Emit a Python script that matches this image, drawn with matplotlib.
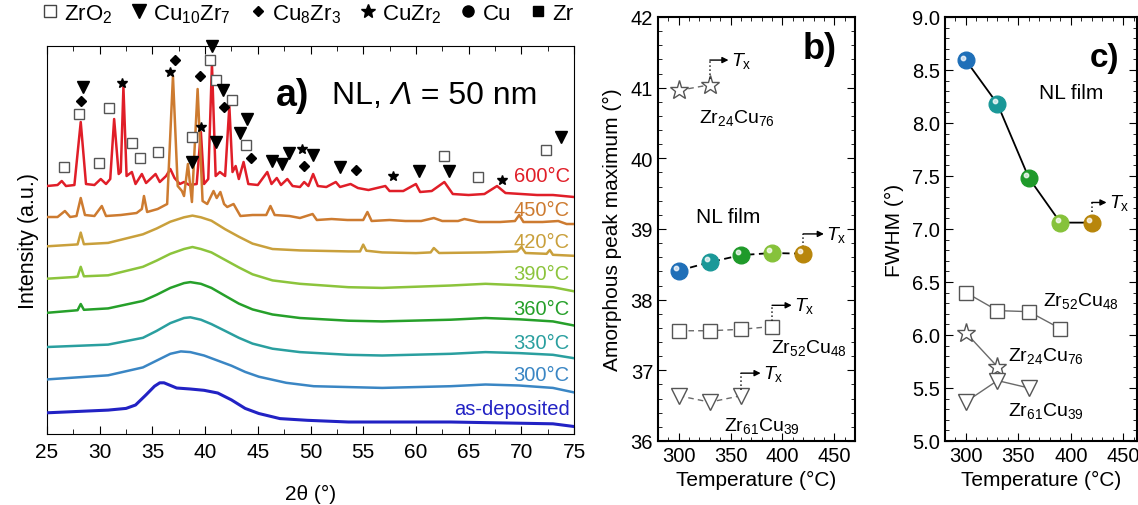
import numpy as np
import matplotlib.pyplot as plt
from matplotlib.ticker import MultipleLocator
from matplotlib.lines import Line2D
from matplotlib import transforms

plt.rcParams['font.family'] = ['Liberation Sans', 'DejaVu Sans']
plt.rcParams['mathtext.fontset'] = 'custom'
plt.rcParams['mathtext.rm'] = 'Liberation Sans'
plt.rcParams['mathtext.it'] = 'Liberation Sans:italic'
plt.rcParams['mathtext.bf'] = 'Liberation Sans:bold'
plt.rcParams['mathtext.default'] = 'regular'

# ---------------- panel a: XRD patterns (2theta, stacked intensity) ----------------
tt_asdep = [25.0, 30.8, 32.5, 33.4, 34.4, 35.2, 35.7, 36.1, 37.3, 38.6, 39.9, 41.2, 42.5, 43.8,
            45.1, 47.1, 49.7, 53.6, 63.3, 73.0, 75.0]
I_asdep = [21.2, 23.9, 25.6, 29.0, 39.2, 47.8, 51.2, 51.2, 46.0, 45.0, 43.7, 41.0, 34.1, 25.6,
           20.5, 15.4, 13.7, 12.0, 12.0, 10.2, 7.5]

tt_300 = [25.0, 30.8, 34.1, 35.4, 36.7, 37.7, 38.6, 39.9, 41.2, 42.5, 43.8, 45.1, 47.7, 50.3,
          56.8, 63.3, 66.6, 69.8, 73.0, 75.0]
I_300 = [54.6, 58.7, 66.6, 73.4, 80.2, 82.6, 81.9, 78.5, 73.4, 68.3, 62.1, 57.3, 51.2, 47.8,
         46.1, 47.8, 49.5, 48.5, 46.1, 41.6]

tt_330 = [25.0, 30.8, 34.1, 35.4, 36.7, 38.0, 38.6, 39.6, 40.6, 41.9, 43.2, 44.5, 46.4, 49.0,
          53.6, 56.8, 63.3, 66.6, 69.8, 73.0, 75.0]
I_330 = [87.0, 89.4, 96.2, 103.1, 110.9, 116.0, 116.7, 114.3, 109.9, 103.1, 96.2, 90.4, 85.3, 81.9,
         79.2, 78.5, 80.2, 81.9, 80.9, 79.2, 75.8]

tt_360 = [25.0, 27.6, 27.9, 28.2, 28.5, 30.8, 34.1, 35.4, 36.7, 38.0, 38.6, 39.6, 40.6, 41.9,
          43.2, 44.5, 46.4, 49.0, 53.6, 56.8, 63.3, 66.6, 69.8, 73.0, 75.0]
I_360 = [121.2, 123.5, 123.8, 130.0, 124.2, 125.6, 133.1, 139.2, 146.1, 150.9, 151.9, 150.2, 146.1, 138.2,
         130.4, 124.6, 119.5, 116.0, 113.3, 112.6, 114.3, 116.0, 114.7, 112.6, 108.5]

tt_390 = [25.0, 27.6, 27.9, 28.2, 28.5, 30.8, 34.1, 35.4, 36.7, 38.0, 38.8, 39.6, 40.6, 41.9,
          43.2, 44.5, 46.4, 49.0, 53.6, 56.8, 63.3, 66.6, 69.8, 73.0, 75.0]
I_390 = [155.3, 157.0, 157.5, 167.2, 157.7, 158.7, 167.2, 173.4, 180.2, 185.0, 187.0, 185.0, 181.6, 174.1,
         166.6, 159.7, 153.6, 150.2, 146.8, 146.1, 148.5, 150.2, 148.8, 146.8, 142.7]

tt_420 = [25.0, 27.6, 27.9, 28.2, 28.5, 30.8, 34.1, 35.4, 36.7, 38.0, 38.8, 39.6, 40.6, 41.9,
          43.2, 44.5, 46.4, 49.0, 53.6, 54.7, 55.0, 55.3, 56.8, 60.0, 61.4, 61.7, 62.2, 66.6,
          69.6, 70.0, 70.4, 72.4, 72.7, 73.0, 75.0]
I_420 = [187.7, 189.4, 189.6, 201.4, 189.8, 191.1, 199.7, 205.5, 212.3, 216.7, 218.4, 216.7, 213.3, 204.8,
         197.3, 190.4, 185.0, 183.6, 182.6, 182.6, 189.4, 183.3, 181.6, 180.9, 181.6, 186.0, 181.0, 181.6,
         182.6, 187.0, 181.0, 180.2, 184.0, 179.2, 178.2]

tt_450 = [25.0, 26.0, 26.7, 27.2, 27.8, 28.2, 28.6, 29.5, 30.2, 30.6, 32.0, 33.5, 34.0, 34.2, 34.5,
          35.5, 36.4, 36.95, 37.4, 37.8, 38.0, 38.37, 38.75, 39.29, 39.76, 40.2, 40.8, 41.1, 41.45,
          41.8, 42.1, 42.7, 43.35, 44.5, 45.8, 46.2, 46.6, 48.0, 49.0, 50.2, 50.6, 52.0, 53.5,
          55.0, 55.4, 55.8, 57.5, 59.0, 60.5, 61.7, 62.5, 64.0, 64.6, 66.0, 68.0, 69.4, 69.8,
          70.2, 72.0, 73.5, 74.3, 75.0]
I_450 = [217, 217, 223, 217, 218, 236, 219, 218, 228, 218, 219, 221, 225, 238, 222,
         225, 230, 358, 248, 243, 238, 270, 232, 345, 233, 230, 243, 236, 242,
         230, 227, 230, 218, 219, 219, 228, 219, 218, 216, 220, 214, 215, 214,
         214, 222, 213, 214, 213, 213, 216, 213, 213, 215, 212, 212, 213, 219,
         212, 212, 213, 210, 210]

tt_600 = [25.0, 26.0, 26.4, 26.8, 27.6, 28.2, 28.7, 29.5, 30.1, 30.6, 31.0, 31.37, 31.8, 32.0,
          32.25, 32.55, 33.05, 33.4, 34.0, 34.4, 35.3, 35.7, 36.3, 36.7, 37.1, 37.6, 38.0, 38.5,
          39.2, 39.6, 39.9, 40.3, 40.65, 41.0, 41.4, 41.9, 42.3, 42.6, 42.9, 43.2, 43.65, 44.1,
          45.0, 45.9, 46.3, 46.8, 47.2, 47.8, 48.3, 49.0, 49.4, 49.8, 50.25, 50.7, 51.5, 52.4,
          52.8, 53.8, 54.5, 55.5, 57.1, 57.5, 58.8, 60.0, 60.4, 61.5, 62.7, 63.5, 65.0, 66.5,
          67.7, 68.5, 70.0, 71.5, 73.0, 75.0]
I_600 = [248, 249, 253, 248, 249, 312, 250, 249, 255, 250, 255, 315, 260, 262,
         347, 258, 262, 250, 260, 251, 260, 252, 258, 265, 256, 250, 252, 249,
         250, 302, 250, 255, 370, 258, 262, 258, 328, 262, 268, 255, 272, 250,
         249, 262, 250, 256, 249, 255, 248, 247, 252, 248, 260, 248, 247, 252,
         247, 250, 246, 244, 248, 243, 243, 250, 242, 243, 252, 240, 239, 240,
         248, 241, 240, 239, 239, 237]

xrd_curves = [
    ('as-deposited', tt_asdep, I_asdep, '#2222c4', 25.6),
    ('300°C', tt_300, I_300, '#3a86c4', 59.7),
    ('330°C', tt_330, I_330, '#2a9f9f', 92.0),
    ('360°C', tt_360, I_360, '#26a02a', 126.0),
    ('390°C', tt_390, I_390, '#8cc43c', 160.4),
    ('420°C', tt_420, I_420, '#c9a03c', 193.0),
    ('450°C', tt_450, I_450, '#cd7b30', 225.0),
    ('600°C', tt_600, I_600, '#e01e28', 259.0),
]

# phase markers (2theta, height)
zro2_tt = [26.6, 28.0, 29.9, 30.9, 33.05, 33.8, 35.5, 38.8, 40.5, 41.0, 42.55, 43.9, 62.7, 65.9, 72.3]
zro2_I = [267, 320, 271, 326, 291, 276, 282, 297, 374, 354, 334, 289, 278, 257, 284]
cu10_tt = [28.45, 38.75, 40.7, 41.0, 41.7, 43.35, 44.0, 46.3, 47.3, 48.0, 50.25, 52.8, 60.3, 63.15, 73.8]
cu10_I = [347, 272, 388, 292, 344, 301, 315, 273, 270, 281, 279, 267, 263, 263, 297]
cu8_tt = [28.2, 37.1, 39.5, 41.8, 44.4, 49.4, 54.3]
cu8_I = [333, 374, 358, 327, 276, 268, 264]
cuzr2_tt = [32.1, 36.7, 39.6, 49.2, 57.8, 68.2]
cuzr2_I = [351, 362, 307, 285, 258, 254]

# ---------------- panels b, c ----------------
T_nl = [300, 330, 360, 390, 420]
peak_nl = [38.41, 38.53, 38.63, 38.66, 38.65]
fwhm_nl = [8.59, 8.18, 7.48, 7.06, 7.06]
nl_colors = ['#1f6fb8', '#1a9898', '#1f9a2a', '#86c23a', '#b8860b']

T_52 = [300, 330, 360, 390]
peak_52 = [37.56, 37.56, 37.58, 37.62]
fwhm_52 = [6.40, 6.23, 6.22, 6.06]
T_24 = [300, 330]
peak_24 = [40.96, 41.04]
fwhm_24 = [6.02, 5.70]
T_61 = [300, 330, 360]
peak_61 = [36.64, 36.55, 36.64]
fwhm_61 = [5.37, 5.57, 5.50]

fig = plt.figure(figsize=(11.38, 5.06), dpi=100)
axa = fig.add_axes([0.0413, 0.1403, 0.4631, 0.7668])
axb = fig.add_axes([0.5782, 0.1265, 0.1731, 0.8380])
axc = fig.add_axes([0.8304, 0.1265, 0.1687, 0.8380])

# ---- panel a ----
for k, (name, tt, inten, col, ylab) in enumerate(xrd_curves):
    lw = 2.2 if name == 'as-deposited' else 1.8
    axa.plot(tt, inten, color=col, lw=lw, solid_joinstyle='round', zorder=10 - k)
    axa.text(74.6, ylab, name, color=col, fontsize=14.5, ha='right', va='center')

mk = dict(ls='none', clip_on=False, zorder=12)
axa.plot(zro2_tt, zro2_I, marker='s', ms=6.5, mfc='white', mec='#555555', mew=1.0, **mk)
axa.plot(cu10_tt, cu10_I, marker='v', ms=8.5, color='black', **mk)
axa.plot(cu8_tt, cu8_I, marker='D', ms=5, color='black', **mk)
axa.plot(cuzr2_tt, cuzr2_I, marker='*', ms=7, color='black', **mk)

axa.set_xlim(25, 75)
axa.set_ylim(0, 388)
axa.xaxis.set_major_locator(MultipleLocator(5))
axa.xaxis.set_minor_locator(MultipleLocator(2.5))
axa.tick_params(axis='x', which='both', direction='in', top=True, labelsize=15)
axa.tick_params(axis='x', which='major', length=6, pad=6)
axa.tick_params(axis='x', which='minor', length=3.5)
axa.set_yticks([])
axa.set_xlabel('2θ (°)', fontsize=15, labelpad=16)
axa.set_ylabel('Intensity (a.u.)', fontsize=15.5, labelpad=6)

axa.text(0.435, 0.875, 'a)', transform=axa.transAxes, fontsize=27, fontweight='bold', va='center')
t1 = axa.text(0.54, 0.875, 'NL, ', transform=axa.transAxes, fontsize=23, va='center')
t2 = axa.annotate('Λ', xy=(1, 0), xycoords=t1, fontsize=23, style='italic', va='bottom')
axa.annotate(' = 50 nm', xy=(1, 0), xycoords=t2, fontsize=23, va='bottom')

handles = [
    Line2D([], [], ls='none', marker='s', ms=8, mfc='white', mec='#444444'),
    Line2D([], [], ls='none', marker='v', ms=9.5, color='black'),
    Line2D([], [], ls='none', marker='D', ms=5.5, color='black'),
    Line2D([], [], ls='none', marker='*', ms=10, color='black'),
    Line2D([], [], ls='none', marker='o', ms=8, color='black'),
    Line2D([], [], ls='none', marker='s', ms=7.5, color='black'),
]
labels = [r'ZrO$_2$', r'Cu$_{10}$Zr$_7$', r'Cu$_8$Zr$_3$', r'CuZr$_2$', 'Cu', 'Zr']
axa.legend(handles, labels, ncol=6, frameon=False, fontsize=16, loc='lower left',
           bbox_to_anchor=(-0.01, 1.055), handlelength=0.7, handletextpad=0.3,
           columnspacing=0.85, borderaxespad=0.0, borderpad=0.0)


def sphere_points(ax, xs, ys, cols, size=12):
    for x, y, c in zip(xs, ys, cols):
        ax.plot([x], [y], marker='o', ms=size, color=c, mec=c, zorder=4)
    hl = transforms.offset_copy(ax.transData, fig=fig, x=-2.0, y=2.0, units='points')
    ax.plot(xs, ys, ls='none', marker='o', ms=3.2, color='white', alpha=0.75, transform=hl, zorder=5)


def tx_arrow(ax, x, y0, y1, x1):
    ax.plot([x, x], [y0, y1], ls=':', color='#222222', lw=1.1)
    ax.annotate('', xy=(x1, y1), xytext=(x, y1),
                arrowprops=dict(arrowstyle='-|>', color='black', lw=1.0,
                                mutation_scale=9, shrinkA=0, shrinkB=0))
    ax.text(x1 + 2, y1, r'$\mathit{T}_{\mathrm{x}}$', fontsize=14, va='center', ha='left')


ref_style = dict(color='#6a6a6a', mfc='white', mec='#555555', mew=1.0, lw=1.0)

# ---- panel b ----
axb.plot(T_nl, peak_nl, ls='--', color='black', lw=1.3, dashes=(4, 2.5), zorder=3)
sphere_points(axb, T_nl, peak_nl, nl_colors)
axb.plot(T_52, peak_52, marker='s', ms=10, ls='--', dashes=(4, 3), **ref_style)
axb.plot(T_24, peak_24, marker='*', ms=14, ls='--', dashes=(4, 3), **ref_style)
axb.plot(T_61, peak_61, marker='v', ms=12, ls='--', dashes=(4, 3), **ref_style)

tx_arrow(axb, T_24[-1], peak_24[-1] + 0.08, 41.39, 348)
tx_arrow(axb, T_nl[-1], peak_nl[-1] + 0.1, 38.93, 440)
tx_arrow(axb, T_52[-1], peak_52[-1] + 0.08, 37.92, 409)
tx_arrow(axb, T_61[-1], peak_61[-1] + 0.08, 36.96, 379)

axb.text(356, 40.58, r'Zr$_{24}$Cu$_{76}$', fontsize=14, ha='center', va='center')
axb.text(426, 37.33, r'Zr$_{52}$Cu$_{48}$', fontsize=14, ha='center', va='center')
axb.text(380, 36.22, r'Zr$_{61}$Cu$_{39}$', fontsize=14, ha='center', va='center')
axb.text(348, 39.17, 'NL film', fontsize=15, ha='center', va='center')
axb.text(436, 41.55, 'b)', fontsize=26, fontweight='bold', ha='center', va='center')

axb.set_xlim(280, 470)
axb.set_ylim(36, 42)
axb.xaxis.set_major_locator(MultipleLocator(50))
axb.xaxis.set_minor_locator(MultipleLocator(10))
axb.yaxis.set_major_locator(MultipleLocator(1))
axb.yaxis.set_minor_locator(MultipleLocator(0.2))
axb.set_xlabel('Temperature (°C)', fontsize=15, labelpad=4)
axb.set_ylabel('Amorphous peak maximum (°)', fontsize=15, labelpad=6)

# ---- panel c ----
axc.plot(T_nl, fwhm_nl, ls='-', color='black', lw=1.3, zorder=3)
sphere_points(axc, T_nl, fwhm_nl, nl_colors)
axc.plot(T_52, fwhm_52, marker='s', ms=10, ls='-', **ref_style)
axc.plot(T_24, fwhm_24, marker='*', ms=14, ls='-', **ref_style)
axc.plot(T_61, fwhm_61, marker='v', ms=12, ls='-', **ref_style)

tx_arrow(axc, T_nl[-1], fwhm_nl[-1] + 0.1, 7.25, 434)

axc.text(400, 8.29, 'NL film', fontsize=15, ha='center', va='center')
axc.text(432, 8.62, 'c)', fontsize=24, fontweight='bold', ha='center', va='center')
axc.text(410, 6.33, r'Zr$_{52}$Cu$_{48}$', fontsize=14, ha='center', va='center')
axc.text(376, 5.81, r'Zr$_{24}$Cu$_{76}$', fontsize=14, ha='center', va='center')
axc.text(376, 5.29, r'Zr$_{61}$Cu$_{39}$', fontsize=14, ha='center', va='center')

axc.set_xlim(280, 463)
axc.set_ylim(5.0, 9.0)
axc.xaxis.set_major_locator(MultipleLocator(50))
axc.xaxis.set_minor_locator(MultipleLocator(10))
axc.yaxis.set_major_locator(MultipleLocator(0.5))
axc.yaxis.set_minor_locator(MultipleLocator(0.1))
axc.yaxis.set_major_formatter(plt.FormatStrFormatter('%.1f'))
axc.set_xlabel('Temperature (°C)', fontsize=15, labelpad=4)
axc.set_ylabel('FWHM (°)', fontsize=15, labelpad=6)

for ax in (axb, axc):
    ax.tick_params(which='both', direction='in', top=True, right=True, labelsize=14.5)
    ax.tick_params(which='major', length=6)
    ax.tick_params(which='minor', length=3)
    for s in ax.spines.values():
        s.set_linewidth(1.5)

fig.savefig('out.png', dpi=100)
